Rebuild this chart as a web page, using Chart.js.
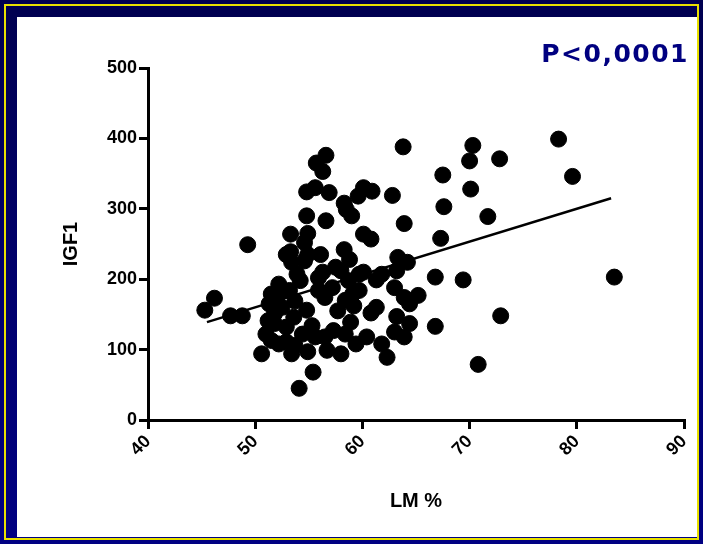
<!DOCTYPE html>
<html>
<head>
<meta charset="utf-8">
<script src="https://cdn.jsdelivr.net/npm/chart.js@4/dist/chart.umd.min.js"></script>
<style>
  html, body { margin: 0; padding: 0; }
  body {
    width: 703px; height: 544px; overflow: hidden;
    background: linear-gradient(to bottom, #000050, #000070 60%, #000082);
    position: relative;
  }
  #frame {
    position: absolute; left: 4px; top: 4px; width: 695px; height: 536px;
    border: 2px solid #e8e000; box-sizing: border-box;
  }
  #panel {
    position: absolute; left: 17px; top: 17px; width: 680px; height: 520px;
    background: #fff;
  }
  #pval {
    position: absolute; right: 8px; top: 22px;
    font: bold 25px "DejaVu Sans", sans-serif; color: #000080; letter-spacing: 1.5px;
  }
  canvas { position: absolute; left: 0; top: 0; }
</style>
</head>
<body>
<div id="frame"></div>
<div id="panel">
  <canvas id="chart" width="680" height="520"></canvas>
  <div id="pval">P&lt;0,0001</div>
</div>
<script>
// LM % (x) and IGF1 (y)
var lmPct = [63.8, 78.3, 79.6, 70.3, 70.0, 72.8, 67.5, 70.1, 67.6, 71.7,
  67.3, 63.9, 62.8, 83.5, 66.8, 69.4, 72.9, 66.8, 70.8, 49.3,
  46.2, 45.3, 47.7, 48.8, 50.6, 54.1, 55.4, 56.6, 55.7, 56.3,
  54.8, 55.6, 56.9, 54.8, 56.6, 58.3, 59.0, 58.5, 60.1, 60.9,
  59.6, 60.1, 60.8, 53.3, 54.9, 53.3, 54.6, 56.1, 58.3, 58.8,
  53.4, 54.6, 56.3, 57.5, 60.1, 61.3, 63.3, 64.2, 63.2, 63.0,
  63.9, 65.2, 64.4, 63.2, 64.4, 63.0, 63.9, 62.3, 60.8, 59.7,
  58.7, 59.2, 57.7, 58.9, 58.4, 60.4, 61.8, 58.0, 56.7, 56.5,
  54.9, 55.3, 54.8, 55.9, 55.9, 53.9, 52.2, 51.5, 51.3, 51.8,
  51.0, 52.2, 53.4, 52.9, 53.7, 53.2, 54.4, 52.5, 51.2, 53.6,
  57.2, 56.5, 58.0, 59.1, 61.3, 57.3, 59.4, 55.6, 52.9, 51.5,
  53.7, 54.9, 52.9, 61.8, 59.7, 58.4, 54.2, 51.8, 52.2];
var igf1 = [388, 399, 346, 390, 368, 371, 348, 328, 303, 289,
  258, 279, 319, 203, 203, 199, 148, 133, 79, 249,
  173, 156, 148, 148, 94, 45, 68, 376, 365, 353,
  324, 330, 323, 290, 283, 308, 290, 299, 330, 325,
  318, 264, 257, 264, 265, 239, 252, 235, 242, 228,
  224, 226, 210, 217, 210, 199, 231, 224, 212, 188,
  174, 177, 165, 147, 137, 125, 118, 89, 152, 184,
  198, 162, 155, 139, 122, 118, 108, 94, 99, 118,
  97, 134, 156, 184, 202, 207, 193, 179, 165, 151,
  122, 108, 94, 132, 169, 184, 122, 160, 141, 146,
  188, 174, 212, 179, 160, 127, 108, 118, 111, 113,
  106, 235, 235, 207, 207, 170, 198, 137, 179];
// regression line end points
var fitX = [45.5, 83.2];
var fitY = [139, 315];
var xTicks = [40, 50, 60, 70, 80, 90];
var yTicks = [0, 100, 200, 300, 400, 500];

var points = lmPct.map(function (x, i) { return { x: x, y: igf1[i] }; });
var fit = fitX.map(function (x, i) { return { x: x, y: fitY[i] }; });

var tickFont = { family: "'Liberation Sans', Arial, sans-serif", size: 18, weight: 'bold' };
var titleFont = { family: "'Liberation Sans', Arial, sans-serif", size: 20, weight: 'bold' };

new Chart(document.getElementById('chart'), {
  type: 'scatter',
  data: {
    datasets: [{
      data: points,
      backgroundColor: '#000',
      borderColor: '#000',
      pointRadius: 8,
      pointHoverRadius: 8
    }, {
      type: 'line',
      data: fit,
      borderColor: '#000',
      borderWidth: 2.5,
      pointRadius: 0,
      fill: false
    }]
  },
  options: {
    responsive: false,
    animation: false,
    plugins: { legend: { display: false }, tooltip: { enabled: false } },
    layout: { padding: { left: 40, top: 51, right: 13, bottom: 0 } },
    scales: {
      x: {
        type: 'linear', min: 40, max: 90,
        afterBuildTicks: function (s) { s.ticks = xTicks.map(function (v) { return { value: v }; }); },
        afterFit: function (s) { s.height = 117; s.paddingLeft = 0; s.paddingRight = 0; },
        ticks: { color: '#000', font: tickFont, minRotation: 45, maxRotation: 45, padding: 2 },
        grid: { drawOnChartArea: false, color: '#000', lineWidth: 3, tickLength: 9 },
        border: { color: '#000', width: 3 },
        title: { display: true, text: 'LM %', color: '#000', font: titleFont, padding: { top: 4, bottom: 24 } }
      },
      y: {
        min: 0, max: 500,
        afterBuildTicks: function (s) { s.ticks = yTicks.map(function (v) { return { value: v }; }); },
        afterFit: function (s) { s.width = 91; },
        ticks: { color: '#000', font: tickFont, padding: 2 },
        grid: { drawOnChartArea: false, color: '#000', lineWidth: 3, tickLength: 9 },
        border: { color: '#000', width: 3 },
        title: { display: true, text: 'IGF1', color: '#000', font: titleFont, padding: { top: 2, bottom: 4 } }
      }
    }
  }
});
</script>
</body>
</html>
